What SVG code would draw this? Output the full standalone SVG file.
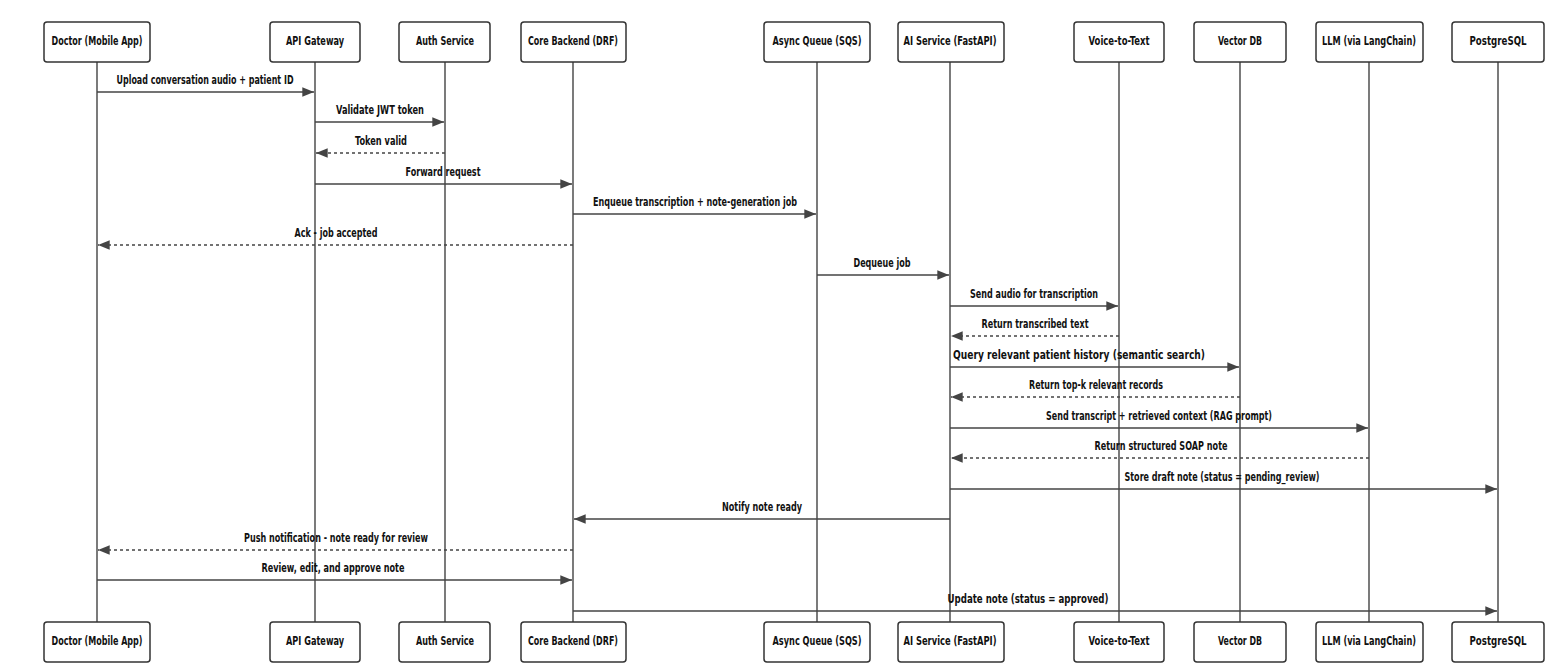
<svg xmlns="http://www.w3.org/2000/svg" width="1566" height="672" viewBox="0 0 1566 672">
<style>
.b{fill:#fff;stroke:#333;stroke-width:1.5}
.l{stroke:#333;stroke-width:1.3}
.t{font-family:"DejaVu Sans Condensed","DejaVu Sans",sans-serif;font-weight:bold;font-size:12px;fill:#111;text-anchor:middle}
.m{stroke:#444;stroke-width:1.3;fill:none}
.d{stroke-dasharray:3,3}
</style>
<defs><marker id="a" viewBox="0 0 10 10" refX="10" refY="5" markerWidth="9" markerHeight="9" orient="auto"><path d="M0,1L10,5L0,9z" fill="#444"/></marker></defs>
<rect width="1566" height="672" fill="#fff"/>
<g id="lifelines">
<line class="l" x1="97" y1="62" x2="97" y2="622"/><line class="l" x1="315" y1="62" x2="315" y2="622"/><line class="l" x1="445" y1="62" x2="445" y2="622"/><line class="l" x1="573" y1="62" x2="573" y2="622"/><line class="l" x1="817" y1="62" x2="817" y2="622"/><line class="l" x1="950" y1="62" x2="950" y2="622"/><line class="l" x1="1119" y1="62" x2="1119" y2="622"/><line class="l" x1="1240" y1="62" x2="1240" y2="622"/><line class="l" x1="1369" y1="62" x2="1369" y2="622"/><line class="l" x1="1498" y1="62" x2="1498" y2="622"/>
</g>
<g id="doctor"><rect class="b" x="44" y="22" width="106" height="40" rx="3"/><text class="t" x="97" y="45" textLength="91" lengthAdjust="spacingAndGlyphs">Doctor (Mobile App)</text><rect class="b" x="44" y="622" width="106" height="40" rx="3"/><text class="t" x="97" y="645" textLength="91" lengthAdjust="spacingAndGlyphs">Doctor (Mobile App)</text></g>
<g id="gateway"><rect class="b" x="270" y="22" width="90" height="40" rx="3"/><text class="t" x="315" y="45" textLength="58" lengthAdjust="spacingAndGlyphs">API Gateway</text><rect class="b" x="270" y="622" width="90" height="40" rx="3"/><text class="t" x="315" y="645" textLength="58" lengthAdjust="spacingAndGlyphs">API Gateway</text></g>
<g id="auth"><rect class="b" x="399" y="22" width="91" height="40" rx="3"/><text class="t" x="445" y="45" textLength="58" lengthAdjust="spacingAndGlyphs">Auth Service</text><rect class="b" x="399" y="622" width="91" height="40" rx="3"/><text class="t" x="445" y="645" textLength="58" lengthAdjust="spacingAndGlyphs">Auth Service</text></g>
<g id="core"><rect class="b" x="521" y="22" width="105" height="40" rx="3"/><text class="t" x="573" y="45" textLength="90" lengthAdjust="spacingAndGlyphs">Core Backend (DRF)</text><rect class="b" x="521" y="622" width="105" height="40" rx="3"/><text class="t" x="573" y="645" textLength="90" lengthAdjust="spacingAndGlyphs">Core Backend (DRF)</text></g>
<g id="queue"><rect class="b" x="764" y="22" width="106" height="40" rx="3"/><text class="t" x="817" y="45" textLength="89" lengthAdjust="spacingAndGlyphs">Async Queue (SQS)</text><rect class="b" x="764" y="622" width="106" height="40" rx="3"/><text class="t" x="817" y="645" textLength="89" lengthAdjust="spacingAndGlyphs">Async Queue (SQS)</text></g>
<g id="ai"><rect class="b" x="898" y="22" width="106" height="40" rx="3"/><text class="t" x="950" y="45" textLength="93" lengthAdjust="spacingAndGlyphs">AI Service (FastAPI)</text><rect class="b" x="898" y="622" width="106" height="40" rx="3"/><text class="t" x="950" y="645" textLength="93" lengthAdjust="spacingAndGlyphs">AI Service (FastAPI)</text></g>
<g id="voice"><rect class="b" x="1074" y="22" width="90" height="40" rx="3"/><text class="t" x="1119" y="45" textLength="61" lengthAdjust="spacingAndGlyphs">Voice-to-Text</text><rect class="b" x="1074" y="622" width="90" height="40" rx="3"/><text class="t" x="1119" y="645" textLength="61" lengthAdjust="spacingAndGlyphs">Voice-to-Text</text></g>
<g id="vector"><rect class="b" x="1194" y="22" width="92" height="40" rx="3"/><text class="t" x="1240" y="45" textLength="44" lengthAdjust="spacingAndGlyphs">Vector DB</text><rect class="b" x="1194" y="622" width="92" height="40" rx="3"/><text class="t" x="1240" y="645" textLength="44" lengthAdjust="spacingAndGlyphs">Vector DB</text></g>
<g id="llm"><rect class="b" x="1316" y="22" width="107" height="40" rx="3"/><text class="t" x="1369" y="45" textLength="94" lengthAdjust="spacingAndGlyphs">LLM (via LangChain)</text><rect class="b" x="1316" y="622" width="107" height="40" rx="3"/><text class="t" x="1369" y="645" textLength="94" lengthAdjust="spacingAndGlyphs">LLM (via LangChain)</text></g>
<g id="pg"><rect class="b" x="1452" y="22" width="92" height="40" rx="3"/><text class="t" x="1498" y="45" textLength="57" lengthAdjust="spacingAndGlyphs">PostgreSQL</text><rect class="b" x="1452" y="622" width="92" height="40" rx="3"/><text class="t" x="1498" y="645" textLength="57" lengthAdjust="spacingAndGlyphs">PostgreSQL</text></g>
<g id="connectors">
<line class="m" x1="97" y1="92" x2="314" y2="92" marker-end="url(#a)"/><text class="t" x="205" y="84" textLength="177" lengthAdjust="spacingAndGlyphs">Upload conversation audio + patient ID</text>
<line class="m" x1="315" y1="122" x2="444" y2="122" marker-end="url(#a)"/><text class="t" x="380" y="114" textLength="88" lengthAdjust="spacingAndGlyphs">Validate JWT token</text>
<line class="m d" x1="445" y1="153" x2="316" y2="153" marker-end="url(#a)"/><text class="t" x="381" y="145" textLength="52" lengthAdjust="spacingAndGlyphs">Token valid</text>
<line class="m" x1="315" y1="184" x2="572" y2="184" marker-end="url(#a)"/><text class="t" x="443" y="176" textLength="75" lengthAdjust="spacingAndGlyphs">Forward request</text>
<line class="m" x1="573" y1="214" x2="816" y2="214" marker-end="url(#a)"/><text class="t" x="695" y="206" textLength="204" lengthAdjust="spacingAndGlyphs">Enqueue transcription + note-generation job</text>
<line class="m d" x1="573" y1="245" x2="98" y2="245" marker-end="url(#a)"/><text class="t" x="336" y="237" textLength="83" lengthAdjust="spacingAndGlyphs">Ack - job accepted</text>
<line class="m" x1="817" y1="275" x2="949" y2="275" marker-end="url(#a)"/><text class="t" x="882" y="267" textLength="57" lengthAdjust="spacingAndGlyphs">Dequeue job</text>
<line class="m" x1="950" y1="306" x2="1118" y2="306" marker-end="url(#a)"/><text class="t" x="1034" y="298" textLength="128" lengthAdjust="spacingAndGlyphs">Send audio for transcription</text>
<line class="m d" x1="1119" y1="336" x2="951" y2="336" marker-end="url(#a)"/><text class="t" x="1035" y="328" textLength="107" lengthAdjust="spacingAndGlyphs">Return transcribed text</text>
<line class="m" x1="950" y1="367" x2="1239" y2="367" marker-end="url(#a)"/><text class="t" x="1079" y="359" textLength="252" lengthAdjust="spacingAndGlyphs">Query relevant patient history (semantic search)</text>
<line class="m d" x1="1240" y1="397" x2="951" y2="397" marker-end="url(#a)"/><text class="t" x="1096" y="389" textLength="134" lengthAdjust="spacingAndGlyphs">Return top-k relevant records</text>
<line class="m" x1="950" y1="428" x2="1368" y2="428" marker-end="url(#a)"/><text class="t" x="1159" y="420" textLength="226" lengthAdjust="spacingAndGlyphs">Send transcript + retrieved context (RAG prompt)</text>
<line class="m d" x1="1369" y1="458" x2="951" y2="458" marker-end="url(#a)"/><text class="t" x="1161" y="450" textLength="133" lengthAdjust="spacingAndGlyphs">Return structured SOAP note</text>
<line class="m" x1="950" y1="489" x2="1497" y2="489" marker-end="url(#a)"/><text class="t" x="1222" y="481" textLength="195" lengthAdjust="spacingAndGlyphs">Store draft note (status = pending_review)</text>
<line class="m" x1="950" y1="519" x2="574" y2="519" marker-end="url(#a)"/><text class="t" x="762" y="511" textLength="80" lengthAdjust="spacingAndGlyphs">Notify note ready</text>
<line class="m d" x1="573" y1="550" x2="98" y2="550" marker-end="url(#a)"/><text class="t" x="336" y="542" textLength="184" lengthAdjust="spacingAndGlyphs">Push notification - note ready for review</text>
<line class="m" x1="97" y1="580" x2="572" y2="580" marker-end="url(#a)"/><text class="t" x="333" y="572" textLength="143" lengthAdjust="spacingAndGlyphs">Review, edit, and approve note</text>
<line class="m" x1="573" y1="611" x2="1497" y2="611" marker-end="url(#a)"/><text class="t" x="1028" y="603" textLength="161" lengthAdjust="spacingAndGlyphs">Update note (status = approved)</text>
</g>
</svg>
